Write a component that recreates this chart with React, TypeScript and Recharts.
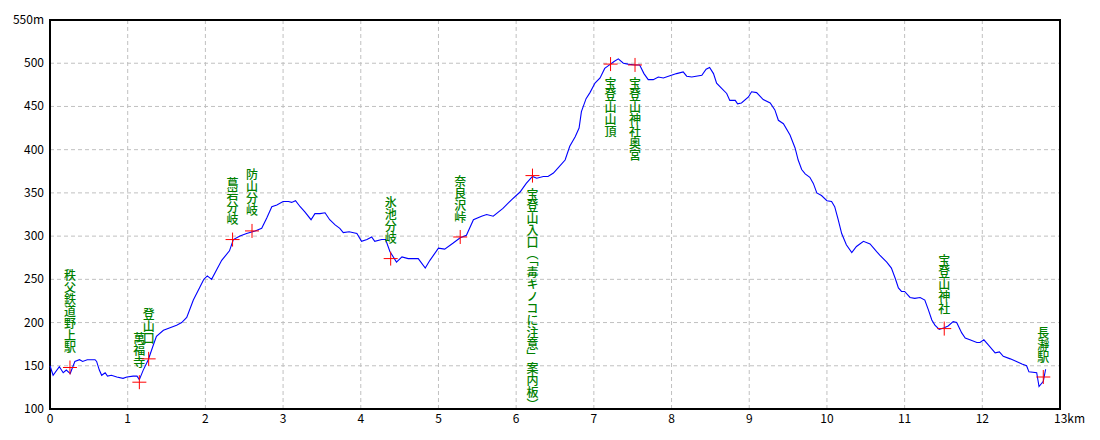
import React from "react";
import {
  ComposedChart, Line, Scatter, XAxis, YAxis, CartesianGrid, ReferenceArea,
} from "recharts";

// elevation profile (km, m)
const profileKm = [
  0, 0.04, 0.12, 0.17, 0.21, 0.26, 0.32, 0.38, 0.42, 0.48, 0.58, 0.6, 0.635, 0.665, 0.71, 0.74,
  0.79, 0.86, 0.94, 0.99, 1.07, 1.12, 1.15, 1.2, 1.265, 1.33, 1.37, 1.46, 1.545, 1.63, 1.695,
  1.76, 1.845, 1.93, 1.98, 2.025, 2.08, 2.145, 2.21, 2.31, 2.36, 2.445, 2.53, 2.64, 2.725, 2.79,
  2.855, 2.92, 3.0, 3.07, 3.11, 3.16, 3.22, 3.28, 3.36, 3.41, 3.475, 3.54, 3.6, 3.67, 3.73,
  3.775, 3.85, 3.95, 4.01, 4.08, 4.14, 4.18, 4.27, 4.32, 4.376, 4.46, 4.53, 4.61, 4.74, 4.83,
  4.89, 5.0, 5.08, 5.19, 5.28, 5.36, 5.45, 5.555, 5.62, 5.705, 5.83, 5.94, 6.05, 6.13, 6.21,
  6.265, 6.35, 6.41, 6.48, 6.54, 6.63, 6.69, 6.76, 6.81, 6.84, 6.9, 6.95, 7.015, 7.08, 7.14,
  7.215, 7.26, 7.315, 7.38, 7.44, 7.53, 7.59, 7.645, 7.7, 7.765, 7.83, 7.895, 7.96, 8.065,
  8.15, 8.195, 8.26, 8.39, 8.445, 8.49, 8.54, 8.58, 8.645, 8.71, 8.75, 8.82, 8.85, 8.9, 8.99,
  9.03, 9.095, 9.18, 9.27, 9.33, 9.375, 9.44, 9.525, 9.59, 9.63, 9.675, 9.72, 9.78, 9.825,
  9.87, 9.93, 10.0, 10.06, 10.1, 10.145, 10.19, 10.25, 10.32, 10.38, 10.47, 10.555, 10.64,
  10.68, 10.77, 10.83, 10.88, 10.92, 10.96, 11.0, 11.07, 11.13, 11.2, 11.26, 11.305, 11.35,
  11.39, 11.445, 11.51, 11.56, 11.625, 11.67, 11.735, 11.78, 11.84, 11.93, 11.97, 12.02,
  12.08, 12.165, 12.22, 12.27, 12.36, 12.44, 12.51, 12.57, 12.6, 12.7, 12.73, 12.785, 12.815,
];
const profileElev = [
  150, 139, 149, 142, 145, 141, 155, 157, 155, 157, 157, 155, 145, 139, 142, 138,
  139, 137, 135.5, 137, 138, 138, 134, 145, 157, 174, 184, 191, 194, 197, 200,
  206, 226, 241, 250, 254, 250, 261, 272, 283, 296, 300, 303, 306, 309, 321,
  334, 336, 340, 340, 339, 341, 334, 328, 319, 326, 326, 327, 319, 313, 309,
  304, 305, 303, 294, 296, 299, 294, 296, 296, 282, 270, 276, 274, 274, 263,
  272, 286, 285, 292, 298, 301, 319, 323, 325, 323, 332, 342, 351, 361, 369,
  367, 369, 369, 373, 379, 388, 404, 415, 425, 444, 459, 466, 477, 483, 494,
  499, 502, 505, 500, 499, 498, 498, 488, 481, 481, 484, 483, 485, 488,
  490, 485, 484, 486, 493, 495, 488, 477, 471, 465, 457, 457, 453, 454, 461,
  467, 466, 458, 454, 446, 434, 430, 417, 402, 388, 377, 372, 368, 361,
  350, 347, 341, 340, 334, 319, 303, 290, 281, 288, 294, 291, 282,
  278, 270, 263, 251, 240, 236, 236, 229, 228, 229, 226, 215, 203,
  197, 192, 194, 196, 201, 200, 188, 182, 180, 177, 177, 180,
  174, 165, 166, 161, 158, 155, 152, 150, 143, 142, 126, 132, 146,
];

// waypoints
const pointNames = [
  "秩父鉄道野上駅", "萬福寺", "登山口", "蔦岩分岐", "防山分岐", "氷池分岐", "奈良沢峠",
  "宝登山入口（「毒キノコに注意」案内板）", "宝登山山頂", "宝登山神社奥宮", "宝登山神社", "長瀞駅",
];
const pointKm = [0.257, 1.15, 1.27, 2.35, 2.6, 4.385, 5.28, 6.21, 7.215, 7.53, 11.51, 12.785];
const pointElev = [148, 131, 158, 296, 306, 274, 299, 370, 499, 498, 193, 137];

const kmTicks = [0, 1, 2, 3, 4, 5, 6, 7, 8, 9, 10, 11, 12, 13];
const elevTicks = [100, 150, 200, 250, 300, 350, 400, 450, 500, 550];

const profile = profileKm.map((km, i) => ({ km, elev: profileElev[i] }));
const points = pointNames.map((name, i) => ({ name, km: pointKm[i], elev: pointElev[i] }));

const FONT = "'Noto Sans CJK JP', sans-serif";

// red cross plus a vertical label (above the mark, or below it near the top)
const Marker = (props: any) => {
  const { cx, cy, payload } = props;
  const below = payload.elev > 350;
  return (
    <g>
      <line x1={cx - 7} x2={cx + 7} y1={cy} y2={cy} stroke="#ff0000" strokeWidth={1} />
      <line x1={cx} x2={cx} y1={cy - 7} y2={cy + 7} stroke="#ff0000" strokeWidth={1} />
      <text
        x={cx}
        y={below ? cy + 13 : cy - 14}
        textAnchor={below ? "start" : "end"}
        fontSize={12}
        fontWeight={500}
        fontFamily={FONT}
        fill="#008000"
        style={{ writingMode: "vertical-rl" }}
      >
        {payload.name}
      </text>
    </g>
  );
};

const XTick = ({ x, y, payload }: any) => (
  payload.value === 13
    ? <text x={x - 6} y={y + 8} textAnchor="start" fontSize={12} fontFamily={FONT} fill="#000">13km</text>
    : <text x={x} y={y + 8} textAnchor="middle" fontSize={12} fontFamily={FONT} fill="#000">{payload.value}</text>
);

const YTick = ({ x, y, payload }: any) => (
  <text x={x} y={y + 4} textAnchor="end" fontSize={12} fontFamily={FONT} fill="#000">
    {payload.value === 550 ? "550m" : payload.value}
  </text>
);

export default function App() {
  return (
    <div style={{ width: 1084, height: 424, fontFamily: FONT }}>
      <ComposedChart width={1084} height={424} margin={{ top: 12, right: 32, left: 0, bottom: 3 }}>
        <CartesianGrid strokeDasharray="4 3" stroke="#c0c0c0" />
        <XAxis
          dataKey="km"
          type="number"
          domain={[0, 13]}
          ticks={kmTicks}
          height={20}
          tickLine={false}
          axisLine={false}
          tickMargin={0}
          tick={<XTick />}
        />
        <YAxis
          type="number"
          domain={[100, 550]}
          ticks={elevTicks}
          width={42}
          tickLine={false}
          axisLine={false}
          tickMargin={0}
          tick={<YTick />}
        />
        <ReferenceArea x1={0} x2={13} y1={100} y2={550} fill="none" stroke="#000" strokeWidth={2} fillOpacity={0} />
        <Line
          data={profile}
          dataKey="elev"
          type="linear"
          stroke="#0000ff"
          strokeWidth={1.1}
          dot={false}
          isAnimationActive={false}
        />
        <Scatter data={points} dataKey="elev" shape={<Marker />} isAnimationActive={false} />
      </ComposedChart>
    </div>
  );
}
